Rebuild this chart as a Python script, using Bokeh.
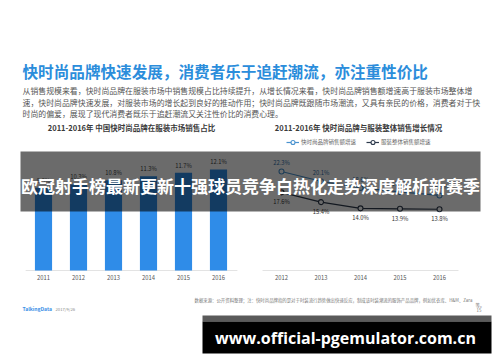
from bokeh.plotting import figure
from bokeh.models import Range1d, Legend, LegendItem
from bokeh.core.properties import value
from bokeh.embed import file_html
from bokeh.resources import INLINE

# ---------------- data ----------------
share_years = [2011, 2012, 2013, 2014, 2015, 2016]
share_values = [9.9, 10.3, 10.8, 11.3, 11.7, 12.1]
share_labels = ["9.9%", "10.3%", "10.8%", "11.3%", "11.7%", "12.1%"]
share_ticks = ["2011", "2012", "2013", "2014", "2015", "2016"]

growth_years = [2012, 2013, 2014, 2015, 2016]
fast_growth = [22.3, 20.1, 18.6, 17.7, 16.9]
fast_labels = ["22.3%", "20.1%", "18.6%", "17.7%", "16.9%"]
total_growth = [17.6, 15.4, 14.0, 13.9, 13.8]
total_labels = ["17.6%", "15.4%", "14.0%", "13.9%", "13.8%"]
growth_ticks = ["2012", "2013", "2014", "2015", "2016"]

title = "快时尚品牌快速发展，消费者乐于追赶潮流，亦注重性价比"
para = [
    "从销售规模来看，快时尚品牌在服装市场中销售规模占比持续提升，从增长情况来看，快时尚品牌销售额增速高于服装市场整体增",
    "速，快时尚品牌快速发展，对服装市场的增长起到良好的推动作用；快时尚品牌既跟随市场潮流，又具有亲民的价格，消费者对于快",
    "时尚的偏爱，展现了现代消费者既乐于追赶潮流又关注性价比的消费心理。",
]
left_title = "2011-2016年 中国快时尚品牌在服装市场销售占比"
right_title = "2011-2016年 快时尚品牌与服装整体销售增长情况"
legend_names = ["快时尚品牌销售额增速", "服装整体销售额增速"]
source_text = "数据来源：公开资料整理；注：快时尚品牌指的是对于时装流行趋势做出快速反应，制成该时装潮流的服饰产品品牌，例如优衣库、H&M、Zara"
banner_text = "欧冠射手榜最新更新十强球员竞争白热化走势深度解析新赛季"
url_text = "www.official-pgemulator.com.cn"

W, H = 500, 362
CJK = value("Noto Sans CJK SC")

p = figure(width=W, height=H, x_range=Range1d(0, W), y_range=Range1d(H, 0),
           output_backend="svg", toolbar_location=None, min_border=0,
           background_fill_color="white", border_fill_color="white")
p.outline_line_color = None
p.xaxis.visible = False
p.yaxis.visible = False
p.xgrid.visible = False
p.ygrid.visible = False

# ---- ranges for the two charts (same frame, own scales) ----
base_px = H - 270  # baseline from bottom
bx_px, bx0 = 35.0, 43.0
p.extra_x_ranges["bx"] = Range1d(2011 - bx0 / bx_px, 2011 + (W - bx0) / bx_px)
by_px = 8.35
p.extra_y_ranges["by"] = Range1d(-base_px / by_px, (H - base_px) / by_px)
lx_px, lx0 = 39.5, 281.0
p.extra_x_ranges["lx"] = Range1d(2012 - lx0 / lx_px, 2012 + (W - lx0) / lx_px)
ly_px = 4.44
p.extra_y_ranges["ly"] = Range1d(-base_px / ly_px, (H - base_px) / ly_px)

# ---- header texts ----
p.text(x=[22], y=[70], text=[title], text_font=CJK, text_font_size="15.6px",
       text_font_style="bold", text_color="#2b8ddb", text_baseline="middle")
p.text(x=[22, 22, 22], y=[90, 101.5, 113], text=para, text_font=CJK,
       text_font_size="7.9px", text_color="#555555", text_baseline="middle")
p.text(x=[131], y=[127], text=[left_title], text_font=CJK, text_font_size="7.5px",
       text_font_style="bold", text_color="#3a3a3a", text_baseline="middle", text_align="center")
p.text(x=[358], y=[127], text=[right_title], text_font=CJK, text_font_size="7.5px",
       text_font_style="bold", text_color="#3a3a3a", text_baseline="middle", text_align="center")

# ---- left bar chart ----
p.segment(x0=[2010.49], y0=[0], x1=[2016.54], y1=[0], line_color="#e3e3e3",
          line_width=1, x_range_name="bx", y_range_name="by")
p.vbar(x=share_years, top=share_values, width=0.49, bottom=0, fill_color="#2f8ce8",
       line_color=None, x_range_name="bx", y_range_name="by")
p.text(x=share_years, y=share_values, text=share_labels, text_font=CJK,
       text_font_size="5.8px", text_color="#444444", text_align="center",
       text_baseline="bottom", y_offset=-3, x_range_name="bx", y_range_name="by")
p.text(x=share_years, y=[0] * 6, text=share_ticks, text_font=CJK,
       text_font_size="5.8px", text_color="#555555", text_align="center",
       text_baseline="middle", y_offset=7, x_range_name="bx", y_range_name="by")

# ---- right line chart ----
p.segment(x0=[2011.52], y0=[0], x1=[2016.48], y1=[0], line_color="#e3e3e3",
          line_width=1, x_range_name="lx", y_range_name="ly")
fast_col = "#4a93cf"
total_col = "#2e3b4d"
l1 = p.line(x=growth_years, y=fast_growth, line_color=fast_col, line_width=1.2,
            x_range_name="lx", y_range_name="ly")
s1 = p.scatter(x=growth_years, y=fast_growth, marker="circle", size=5,
               fill_color="white", line_color=fast_col, line_width=1.1,
               x_range_name="lx", y_range_name="ly")
l2 = p.line(x=growth_years, y=total_growth, line_color=total_col, line_width=1.2,
            x_range_name="lx", y_range_name="ly")
s2 = p.scatter(x=growth_years, y=total_growth, marker="circle", size=5,
               fill_color="white", line_color=total_col, line_width=1.1,
               x_range_name="lx", y_range_name="ly")
p.text(x=growth_years, y=fast_growth, text=fast_labels, text_font=CJK,
       text_font_size="5.8px", text_color="#2f6fa8", text_align="center",
       text_baseline="bottom", y_offset=-4, x_range_name="lx", y_range_name="ly")
p.text(x=growth_years, y=total_growth, text=total_labels, text_font=CJK,
       text_font_size="5.8px", text_color="#333333", text_align="center",
       text_baseline="top", y_offset=5, x_range_name="lx", y_range_name="ly")
p.text(x=growth_years, y=[0] * 5, text=growth_ticks, text_font=CJK,
       text_font_size="5.8px", text_color="#555555", text_align="center",
       text_baseline="middle", y_offset=7, x_range_name="lx", y_range_name="ly")

legend = Legend(items=[LegendItem(label=legend_names[0], renderers=[l1, s1]),
                       LegendItem(label=legend_names[1], renderers=[l2, s2])],
                location=(286, H - 147), orientation="horizontal",
                label_text_font="Noto Sans CJK SC", label_text_font_size="5.5px",
                label_text_color="#666666", glyph_width=13, glyph_height=10,
                label_standoff=2, spacing=10, padding=0, margin=0,
                label_height=10, border_line_color=None, background_fill_alpha=0)
p.add_layout(legend, "center")

# ---- footer ----
p.text(x=[194], y=[299], text=[source_text], text_font=CJK, text_font_size="4.4px",
       text_color="#777777", text_baseline="middle")
p.text(x=[475, 476], y=[304, 309], text=["等。", "15"], text_font=CJK,
       text_font_size="4.4px", text_color="#777777", text_baseline="middle")
p.text(x=[22], y=[308], text=["TalkingData"], text_font=CJK, text_font_size="5px",
       text_font_style="bold", text_color="#3a8ee6", text_baseline="middle")
p.text(x=[55], y=[308], text=["2017/9/26"], text_font=CJK, text_font_size="4.2px",
       text_color="#888888", text_baseline="middle")

# ---- overlay banners ----
p.quad(left=[20], right=[480], top=[151], bottom=[211], fill_color="black",
       fill_alpha=0.58, line_color=None)
p.text(x=[250], y=[185], text=[banner_text], text_font=CJK, text_font_size="17px",
       text_font_style="bold", text_color="white", text_align="center",
       text_baseline="middle")
p.quad(left=[202], right=[491], top=[315], bottom=[321], fill_color="#5a5a5a",
       line_color=None)
p.quad(left=[202], right=[491], top=[321], bottom=[353], fill_color="black",
       line_color=None)
p.text(x=[345], y=[337], text=[url_text], text_font=value("Open Sans"),
       text_font_size="16px", text_font_style="bold", text_color="white",
       text_align="center", text_baseline="middle")

open("out.html", "w").write(file_html(p, INLINE))
